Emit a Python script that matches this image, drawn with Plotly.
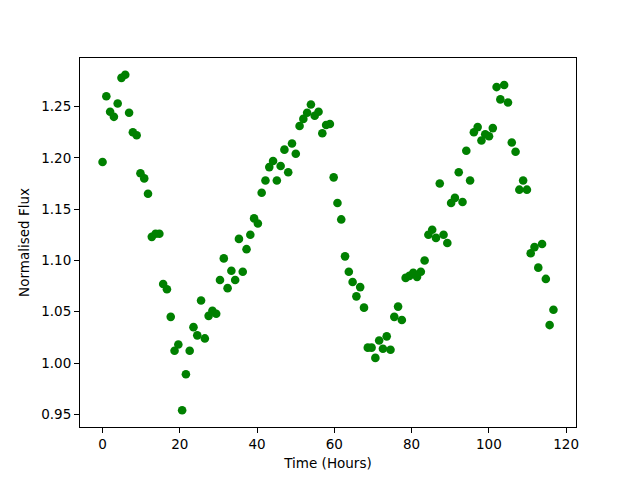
import plotly.graph_objects as go

time_hours = [
    0.00, 0.98, 1.96, 2.94, 3.92, 4.90, 5.88, 6.87, 7.85, 8.83,
    9.81, 10.79, 11.77, 12.75, 13.73, 14.71, 15.69, 16.67, 17.65, 18.64,
    19.62, 20.60, 21.58, 22.56, 23.54, 24.52, 25.50, 26.48, 27.46, 28.44,
    29.42, 30.40, 31.39, 32.37, 33.35, 34.33, 35.31, 36.29, 37.27, 38.25,
    39.23, 40.21, 41.19, 42.17, 43.16, 44.14, 45.12, 46.10, 47.08, 48.06,
    49.04, 50.02, 51.00, 51.98, 52.96, 53.94, 54.92, 55.91, 56.89, 57.87,
    58.85, 59.83, 60.81, 61.79, 62.77, 63.75, 64.73, 65.71, 66.69, 67.68,
    68.66, 69.64, 70.62, 71.60, 72.58, 73.56, 74.54, 75.52, 76.50, 77.48,
    78.46, 79.44, 80.43, 81.41, 82.39, 83.37, 84.35, 85.33, 86.31, 87.29,
    88.27, 89.25, 90.23, 91.21, 92.20, 93.18, 94.16, 95.14, 96.12, 97.10,
    98.08, 99.06, 100.04, 101.02, 102.00, 102.98, 103.96, 104.95, 105.93, 106.91,
    107.89, 108.87, 109.85, 110.83, 111.81, 112.79, 113.77, 114.75, 115.73, 116.72,
]

flux = [
    1.196, 1.260, 1.245, 1.240, 1.253, 1.278, 1.281, 1.244, 1.225, 1.222,
    1.185, 1.180, 1.165, 1.123, 1.126, 1.126, 1.077, 1.072, 1.045, 1.012,
    1.018, 0.954, 0.989, 1.012, 1.035, 1.027, 1.061, 1.024, 1.046, 1.051,
    1.048, 1.081, 1.102, 1.073, 1.090, 1.081, 1.121, 1.089, 1.111, 1.125,
    1.141, 1.136, 1.166, 1.178, 1.191, 1.197, 1.178, 1.192, 1.208, 1.186,
    1.214, 1.204, 1.231, 1.238, 1.244, 1.252, 1.241, 1.245, 1.224, 1.232,
    1.233, 1.181, 1.156, 1.140, 1.104, 1.089, 1.079, 1.065, 1.074, 1.054,
    1.015, 1.015, 1.005, 1.022, 1.014, 1.026, 1.013, 1.045, 1.055, 1.042,
    1.083, 1.085, 1.088, 1.084, 1.089, 1.100, 1.125, 1.130, 1.122, 1.175,
    1.125, 1.117, 1.156, 1.161, 1.186, 1.157, 1.207, 1.178, 1.225, 1.230,
    1.217, 1.223, 1.221, 1.229, 1.269, 1.257, 1.271, 1.254, 1.215, 1.206,
    1.169, 1.178, 1.169, 1.107, 1.113, 1.093, 1.116, 1.082, 1.037, 1.052,
]

x_ticks = [0, 20, 40, 60, 80, 100, 120]
y_ticks = [0.95, 1.00, 1.05, 1.10, 1.15, 1.20, 1.25]

fig = go.Figure()
fig.add_trace(go.Scatter(
    x=time_hours, y=flux, mode="markers",
    marker=dict(color="#008000", size=8.6, line=dict(width=0)),
    showlegend=False,
))

xmin, xmax = min(time_hours), max(time_hours)
ymin, ymax = min(flux), max(flux)
xpad = 0.05 * (xmax - xmin)
ypad = 0.05 * (ymax - ymin)

axis_common = dict(
    showgrid=False, zeroline=False, showline=True, linecolor="black",
    linewidth=1, mirror=True, ticks="outside", ticklen=5, tickwidth=1,
    automargin=False,
    tickcolor="black", tickfont=dict(family="DejaVu Sans", size=13.5, color="black"),
)

# page body has an 8px default margin, so the figure is offset by (8, 8)
fig.update_layout(
    width=632, height=472,
    margin=dict(l=72, r=64, t=50, b=53),
    paper_bgcolor="white", plot_bgcolor="white",
    font=dict(family="DejaVu Sans", size=13.5, color="black"),
    xaxis=dict(range=[xmin - xpad, xmax + xpad], tickvals=x_ticks,
               title=dict(text="Time (Hours)", standoff=7,
                          font=dict(family="DejaVu Sans", size=13.5)),
               **axis_common),
    yaxis=dict(range=[ymin - ypad, ymax + ypad], tickvals=y_ticks,
               tickformat=".2f",
               title=dict(text="Normalised Flux", standoff=8,
                          font=dict(family="DejaVu Sans", size=13.5)),
               **axis_common),
)

fig.write_html("out.html")
